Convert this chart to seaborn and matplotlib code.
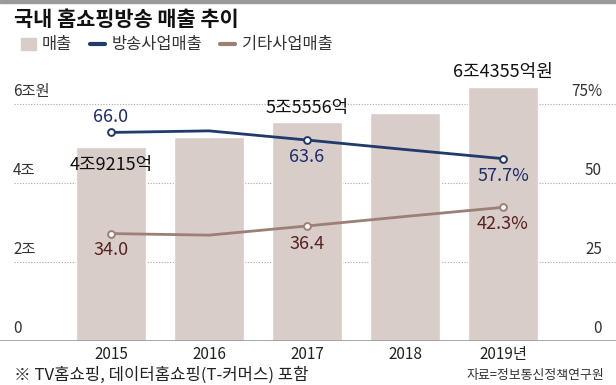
import pandas as pd
import matplotlib.pyplot as plt
import matplotlib.patches as mpatches
import matplotlib.lines as mlines
import seaborn as sns

sns.set_theme(style="white")
plt.rcParams['font.family'] = ['Noto Sans CJK KR', 'DejaVu Sans']

# data
years = ['2015', '2016', '2017', '2018', '2019년']
sales = [4.9215, 5.16, 5.5556, 5.76, 6.4355]          # 조원
broadcast = [66.0, 66.5, 63.6, 60.6, 57.7]           # %
other = [34.0, 33.5, 36.4, 39.4, 42.3]               # %
sales_labels = ['4조9215억', '', '5조5556억', '', '6조4355억원']
broadcast_labels = ['66.0', '', '63.6', '', '57.7%']
other_labels = ['34.0', '', '36.4', '', '42.3%']
left_ticks = [0, 2, 4, 6]
left_tick_labels = ['0', '2조', '4조', '6조원']
right_tick_labels = ['0', '25', '50', '75%']

BAR = '#d8cdc9'
NAVY = '#1f3a6b'
NAVY_TXT = '#1d2d6e'
BROWN = '#9c8076'
BROWN_TXT = '#5a2222'

df = pd.DataFrame({'year': years, 'sales': sales, 'broadcast': broadcast, 'other': other})
df['idx'] = range(len(df))

fig = plt.figure(figsize=(6.16, 3.85), dpi=100)
ax = fig.add_axes([0, 1 - 341 / 385, 1, (341 - 64.5) / 385])

sns.barplot(data=df, x='idx', y='sales', color=BAR, width=0.714, saturation=1, ax=ax, zorder=2)
ax.set_xlim(-111 / 98, (616 - 111) / 98)
ax.set_ylim(0, 7)

ax2 = ax.twinx()
ax2.set_ylim(0, 87.5)
sns.lineplot(data=df, x='idx', y='broadcast', color=NAVY, lw=2, ax=ax2, sort=False)
sns.lineplot(data=df, x='idx', y='other', color=BROWN, lw=2, ax=ax2, sort=False)
marked = df.iloc[[0, 2, 4]]
ax2.scatter(marked['idx'], marked['broadcast'], s=24, facecolor='white', edgecolor=NAVY, lw=1.4, zorder=5)
ax2.scatter(marked['idx'], marked['other'], s=24, facecolor='white', edgecolor=BROWN, lw=1.4, zorder=5)

for a in (ax, ax2):
    a.set_xticks([])
    a.set_yticks([])
    a.set_xlabel('')
    a.set_ylabel('')
    for s in a.spines.values():
        s.set_visible(False)
ax2.set_xlim(ax.get_xlim())

# grid and baseline
for v in left_ticks[1:]:
    ax.axhline(v, xmin=14 / 616, color='#a8a8a8', ls=(0, (1, 1.5)), lw=0.8, zorder=1)
ax.axhline(0, color='#9a9a9a', lw=1.2, zorder=3)

# y tick labels inside plot
for v, lab in zip(left_ticks, left_tick_labels):
    ax.text(13 / 616, v + 0.1, lab, transform=ax.get_yaxis_transform(),
            ha='left', va='bottom', fontsize=11, color='#333333')
for v, lab in zip(left_ticks, right_tick_labels):
    ax.text(602 / 616, v + 0.1, lab, transform=ax.get_yaxis_transform(),
            ha='right', va='bottom', fontsize=11, color='#333333')

# x labels
for i, y in enumerate(years):
    ax.text(i, -0.33, y, ha='center', va='center', fontsize=11, color='#222222')

# value labels
sales_off = [-0.46, 0, 0.35, 0, 0.37]
for i, lab in enumerate(sales_labels):
    if lab:
        ax.text(i, sales[i] + sales_off[i], lab, ha='center', va='center',
                fontsize=13, color='#111111', fontweight='medium', zorder=6)
b_off = [15, 0, -17, 0, -17]
o_off = [-16, 0, -18, 0, -17]
for i in range(len(years)):
    if broadcast_labels[i]:
        ax2.annotate(broadcast_labels[i], (i, broadcast[i]), xytext=(0, b_off[i]),
                     textcoords='offset pixels', ha='center', va='center',
                     fontsize=13, color=NAVY_TXT, zorder=6)
    if other_labels[i]:
        ax2.annotate(other_labels[i], (i, other[i]), xytext=(0, o_off[i]),
                     textcoords='offset pixels', ha='center', va='center',
                     fontsize=13, color=BROWN_TXT, zorder=6)

# title, legend, notes
fig.patches.append(mpatches.Rectangle((0, 1 - 3 / 385), 1, 3 / 385, transform=fig.transFigure,
                                      color='#9a9a9a', zorder=0))
fig.text(14 / 616, 1 - 19 / 385, '국내 홈쇼핑방송 매출 추이', ha='left', va='center',
         fontsize=15, fontweight='bold', color='#111111')
handles = [mpatches.Patch(color=BAR),
           mlines.Line2D([], [], color=NAVY, lw=3),
           mlines.Line2D([], [], color=BROWN, lw=3)]
fig.legend(handles, ['매출', '방송사업매출', '기타사업매출'], loc='center left',
           bbox_to_anchor=(6 / 616, 1 - 45 / 385), ncol=3, frameon=False,
           fontsize=11.8, handlelength=0.9, handleheight=0.8, handletextpad=0.4,
           columnspacing=1.1, labelcolor='#333333')
fig.text(14 / 616, 1 - 375 / 385, '※ TV홈쇼핑, 데이터홈쇼핑(T-커머스) 포함', ha='left', va='center',
         fontsize=12, color='#222222')
fig.text(604 / 616, 1 - 376 / 385, '자료=정보통신정책연구원', ha='right', va='center',
         fontsize=9.3, color='#333333')

fig.savefig('out.png', dpi=100)
